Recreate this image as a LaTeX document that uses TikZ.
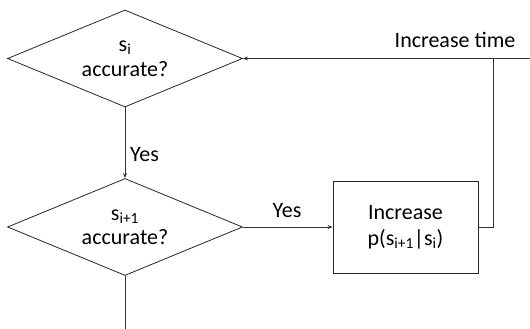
\documentclass[tikz,border=0pt]{standalone}
\usepackage{fontspec}
\setmainfont{Carlito}
\usetikzlibrary{shapes.geometric,arrows.meta}
\tikzset{
  conn/.style={draw=black!80, line width=0.8pt},
  arr/.style={conn, -{Stealth[length=5pt,width=4pt]}},
  decision/.style={diamond, draw=black!85, line width=0.8pt, inner sep=0pt,
    aspect=2.42, minimum width=235pt, minimum height=97pt, align=center,
    font=\fontsize{22}{24.5}\selectfont},
  actbox/.style={rectangle, draw=black!85, line width=0.8pt, minimum width=145pt,
    minimum height=92pt, align=center, font=\fontsize{22}{26}\selectfont},
  lbl/.style={font=\fontsize{22}{24}\selectfont, inner sep=0pt}
}
\begin{document}
\begin{tikzpicture}[x=1pt,y=-1pt]
\useasboundingbox (0,0) rectangle (530,329);
\node[decision] (d1) at (125,58.5) {s\textsubscript{i}\\accurate?};
\node[decision] (d2) at (125,227) {s\textsubscript{i+1}\\accurate?};
\node[actbox] (box) at (405.5,227) {Increase\\p(s\textsubscript{i+1}|s\textsubscript{i})};
\coordinate (rtop) at (530,58.5);
\coordinate (corner) at (493,58.5);
\coordinate (cbot) at (493,227);
\coordinate (bottom) at (125,329);
\node[lbl, anchor=west] (yes1) at (130,155) {Yes};
\node[lbl] (yes2) at (287,211) {Yes};
\node[lbl] (inct) at (455,40) {Increase time};
\draw[arr] (d1.south) -- (d2.north);
\draw[arr] (d2.east) -- (box.west);
\draw[conn] (box.east) -- (cbot) -- (corner);
\draw[arr] (rtop) -- (d1.east);
\draw[conn] (d2.south) -- (bottom);
\end{tikzpicture}
\end{document}
